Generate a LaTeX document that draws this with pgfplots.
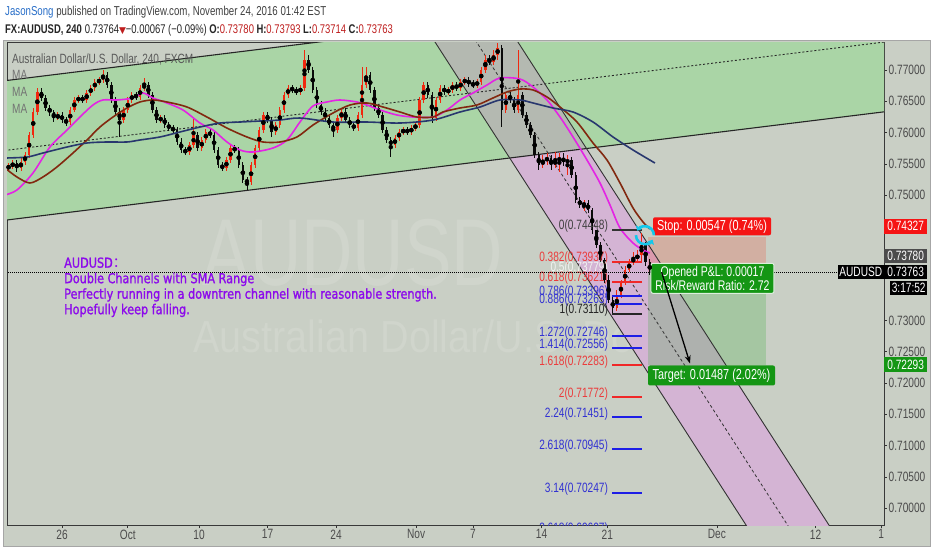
\documentclass[border=0pt]{standalone}
\usepackage{pgfplots}
\pgfplotsset{compat=1.18}
\usepackage{pgfplotstable}
\usetikzlibrary{arrows.meta}
\usepackage{fontspec}
\setmainfont{Liberation Sans}
\newfontfamily\tv[FakeStretch=0.75]{Liberation Sans}
\newfontfamily\tvp[FakeStretch=0.82,FakeBold=1.2]{DejaVu Sans}
\newfontfamily\wmA[FakeStretch=0.75]{Liberation Sans}
\newfontfamily\wmB[FakeStretch=0.88]{Liberation Sans}
\newfontfamily\sym{DejaVu Sans}
\newfontfamily\cjk{Noto Sans CJK SC}

\definecolor{bgcol}{RGB}{201,207,197}
\definecolor{grn}{RGB}{170,213,166}
\definecolor{chgray}{RGB}{180,185,177}
\definecolor{chpink}{RGB}{212,180,212}
\definecolor{cup}{RGB}{240,40,15}
\definecolor{cdn}{RGB}{10,10,10}
\definecolor{magma}{RGB}{228,35,228}
\definecolor{brownma}{RGB}{130,40,15}
\definecolor{navyma}{RGB}{40,55,110}
\definecolor{fibred}{RGB}{240,40,40}
\definecolor{fibblue}{RGB}{30,30,230}
\definecolor{fibtred}{RGB}{235,60,60}
\definecolor{fibtblue}{RGB}{50,50,210}
\definecolor{purp}{RGB}{140,10,235}
\definecolor{boxred}{RGB}{245,20,20}
\definecolor{boxgreen}{RGB}{20,150,20}
\definecolor{hdrblue}{RGB}{40,110,200}
\definecolor{hdrred}{RGB}{190,30,30}
\definecolor{zred}{RGB}{240,80,60}
\definecolor{zgreen}{RGB}{40,170,40}
\definecolor{icon}{RGB}{20,200,235}

% candles sampled every 0.3 trading day; d = trading days from Sep 26
\pgfplotstableread{
d o h l c
-3.9 0.75432 0.75512 0.75384 0.75464
-3.6 0.75464 0.7556 0.75416 0.75512
-3.0 0.75432 0.75592 0.75384 0.75528
-2.7 0.75528 0.75688 0.7548 0.7564
-2.4 0.7564 0.76008 0.75592 0.7596
-2.1 0.7596 0.76392 0.75912 0.76328
-1.8 0.76328 0.76712 0.7628 0.76648
-0.3 0.76232 0.76328 0.762 0.7628
0.6 0.76168 0.76408 0.7612 0.7636
0.9 0.7636 0.76568 0.76328 0.7652
1.2 0.7652 0.766 0.76472 0.76552
1.8 0.7652 0.7668 0.76472 0.76632
2.1 0.76632 0.7676 0.76584 0.76712
2.4 0.76712 0.76856 0.76664 0.76808
2.7 0.76808 0.76888 0.7676 0.7684
3.0 0.7684 0.77 0.76792 0.7692
4.5 0.762 0.76408 0.76152 0.7636
4.8 0.7636 0.76568 0.76312 0.7652
5.1 0.7652 0.76648 0.76472 0.766
5.7 0.76568 0.7676 0.7652 0.76712
6.0 0.76712 0.76872 0.76664 0.7676
7.2 0.762 0.7628 0.76152 0.76232
9.3 0.75688 0.75848 0.7564 0.758
9.6 0.758 0.76232 0.75752 0.7596
10.2 0.75752 0.75928 0.75704 0.7588
10.5 0.7588 0.76056 0.75832 0.76008
12.0 0.75432 0.75608 0.75384 0.7556
12.3 0.7556 0.758 0.75512 0.75752
13.8 0.75208 0.75528 0.7516 0.7548
14.1 0.7548 0.758 0.75432 0.75752
14.4 0.75752 0.76088 0.75704 0.7604
14.7 0.7604 0.76328 0.75992 0.7628
15.6 0.76008 0.76168 0.7596 0.7612
15.9 0.7612 0.76408 0.76072 0.7636
16.2 0.7636 0.76648 0.76312 0.766
16.5 0.766 0.7676 0.76552 0.76712
17.4 0.76648 0.7676 0.766 0.76712
17.7 0.76712 0.7732 0.76664 0.7716
20.1 0.7604 0.7628 0.75992 0.76232
20.4 0.76232 0.76392 0.76184 0.76328
21.6 0.76072 0.76328 0.76024 0.7628
21.9 0.7628 0.77048 0.76232 0.7676
22.2 0.7676 0.77048 0.76712 0.7692
24.3 0.758 0.7596 0.75752 0.75912
24.6 0.75912 0.76056 0.75864 0.76008
24.9 0.76008 0.76088 0.7596 0.7604
25.5 0.76008 0.7612 0.7596 0.76072
25.8 0.76072 0.76168 0.76024 0.7612
26.1 0.7612 0.76568 0.76072 0.7652
26.4 0.7652 0.76808 0.76472 0.7676
27.3 0.76232 0.76568 0.76184 0.7652
27.6 0.7652 0.7676 0.76472 0.76712
28.2 0.76648 0.76728 0.766 0.7668
28.5 0.7668 0.76808 0.76632 0.7676
29.1 0.76712 0.76856 0.76664 0.76808
29.4 0.76808 0.76888 0.7676 0.7684
30.3 0.7676 0.76856 0.76712 0.76808
30.6 0.76808 0.77048 0.7676 0.77
30.9 0.77 0.7724 0.76952 0.7716
31.5 0.77128 0.7732 0.7708 0.7724
31.8 0.7724 0.77432 0.7716 0.77352
32.4 0.7636 0.76648 0.76312 0.766
33.3 0.7636 0.7732 0.76312 0.766
35.1 0.7548 0.7564 0.75432 0.7556
35.4 0.7556 0.75672 0.7548 0.75592
36.0 0.7548 0.75688 0.75432 0.7556
36.3 0.7556 0.75672 0.75368 0.75592
36.9 0.75528 0.7564 0.7532 0.7556
38.1 0.7484 0.7492 0.74744 0.74872
40.5 0.73192 0.7348 0.73144 0.734
40.8 0.734 0.7364 0.73352 0.73608
41.1 0.73608 0.73864 0.7356 0.738
41.4 0.738 0.73976 0.73768 0.73928
41.7 0.73928 0.74088 0.7388 0.73992
42.0 0.73992 0.7412 0.73912 0.7404
42.3 0.7404 0.74392 0.73944 0.742
}\upc

\pgfplotstableread{
d o h l c
-3.3 0.75512 0.7556 0.75368 0.75432
-1.5 0.76648 0.76712 0.76504 0.76552
-1.2 0.76552 0.766 0.76344 0.76392
-0.9 0.76392 0.7644 0.76264 0.76328
-0.6 0.76328 0.7636 0.76168 0.76232
0.0 0.7628 0.76328 0.76152 0.762
0.3 0.762 0.76248 0.76104 0.76168
1.5 0.76552 0.766 0.76472 0.7652
3.3 0.7692 0.76968 0.76712 0.7676
3.6 0.7676 0.76808 0.76472 0.7652
3.9 0.7652 0.76568 0.76264 0.76328
4.2 0.76328 0.76392 0.75928 0.762
5.4 0.766 0.76648 0.7652 0.76568
6.3 0.7676 0.76808 0.76552 0.766
6.6 0.766 0.76648 0.76312 0.7636
6.9 0.7636 0.76408 0.76152 0.762
7.5 0.76232 0.7628 0.76072 0.7612
7.8 0.7612 0.76168 0.76024 0.76072
8.1 0.76072 0.7612 0.75992 0.7604
8.4 0.7604 0.76088 0.758 0.75848
8.7 0.75848 0.75912 0.75672 0.7572
9.0 0.7572 0.75768 0.7564 0.75688
9.9 0.7596 0.76008 0.75704 0.75752
10.8 0.76008 0.76056 0.75912 0.7596
11.1 0.7596 0.76008 0.75672 0.7572
11.4 0.7572 0.75768 0.75432 0.7548
11.7 0.7548 0.75528 0.75384 0.75432
12.6 0.75752 0.758 0.75672 0.7572
12.9 0.7572 0.75768 0.75432 0.7548
13.2 0.7548 0.75528 0.75192 0.7524
13.5 0.7524 0.75288 0.7508 0.75208
15.0 0.7628 0.76328 0.76152 0.762
15.3 0.762 0.76248 0.75928 0.76008
16.8 0.76712 0.7676 0.76632 0.7668
17.1 0.7668 0.76728 0.766 0.76648
18.0 0.7716 0.7724 0.76952 0.77
18.3 0.77 0.77048 0.76632 0.7668
18.6 0.7668 0.76728 0.76392 0.7644
18.9 0.7644 0.76504 0.7628 0.76328
19.2 0.76328 0.76392 0.76184 0.76232
19.5 0.76232 0.7628 0.76072 0.7612
19.8 0.7612 0.76168 0.75928 0.7604
20.7 0.76328 0.76392 0.76152 0.762
21.0 0.762 0.76248 0.76072 0.7612
21.3 0.7612 0.76168 0.76024 0.76072
22.5 0.7692 0.76968 0.76632 0.7668
22.8 0.7668 0.76728 0.76344 0.76392
23.1 0.76392 0.7644 0.76232 0.7628
23.4 0.7628 0.76328 0.75992 0.7604
23.7 0.7604 0.76088 0.75832 0.7588
24.0 0.7588 0.75928 0.75608 0.758
25.2 0.7604 0.76088 0.7596 0.76008
26.7 0.7676 0.76808 0.76552 0.766
27.0 0.766 0.76648 0.76152 0.76232
27.9 0.76712 0.7676 0.766 0.76648
28.8 0.7676 0.76808 0.76664 0.76712
29.7 0.7684 0.76888 0.76728 0.76776
30.0 0.76776 0.7684 0.76712 0.7676
31.2 0.7716 0.7724 0.7708 0.77128
32.1 0.77352 0.774 0.76088 0.7636
32.7 0.766 0.76648 0.76472 0.7652
33.0 0.7652 0.76568 0.76312 0.7636
33.6 0.766 0.76648 0.76232 0.7628
33.9 0.7628 0.76328 0.76072 0.7612
34.2 0.7612 0.76168 0.75912 0.7596
34.5 0.7596 0.76008 0.75592 0.7564
34.8 0.7564 0.75688 0.754 0.7548
35.7 0.75592 0.7564 0.754 0.7548
36.6 0.75592 0.75672 0.75464 0.75528
37.2 0.7556 0.75608 0.75272 0.7532
37.5 0.7532 0.75368 0.74872 0.7492
37.8 0.7492 0.74968 0.74792 0.7484
38.4 0.74872 0.7492 0.74712 0.7476
38.7 0.7476 0.74792 0.74376 0.7444
39.0 0.7444 0.74448 0.74152 0.742
39.3 0.742 0.74248 0.73912 0.7396
39.6 0.7396 0.73992 0.73592 0.7364
39.9 0.7364 0.7372 0.73272 0.7332
40.2 0.7332 0.734 0.7311 0.73192
42.6 0.742 0.74248 0.73864 0.73928
42.9 0.73928 0.73976 0.7372 0.73763
}\dnc

\begin{document}
\begin{tikzpicture}[x=1pt,y=1pt]
\useasboundingbox (0pt,0pt) rectangle (932pt,550pt);
\fill[white] (0pt,0pt) rectangle (932pt,550pt);
\draw[fill=bgcol, draw=gray!70, line width=0.8pt] (3.5pt,4pt) rectangle (930pt,509.5pt);

\node[anchor=base west, inner sep=0, font=\tv\fontsize{12.9}{14}\selectfont, text=black!75] at (5pt,534pt)
 {\textcolor{hdrblue}{JasonSong} published on TradingView.com, November 24, 2016 01:42 EST};
\node[anchor=base west, inner sep=0, font=\tv\fontsize{12.6}{14}\selectfont, text=black!85] at (5pt,516pt)
 {\textbf{FX:AUDUSD, 240}\hspace{3pt}0.73764{\sym\fontsize{9}{10}\selectfont\textcolor{hdrred}{▼}}−0.00067 (−0.09\%)\hspace{2.5pt}\textbf{O:}\textcolor{hdrred}{0.73780}\hspace{2.5pt}\textbf{H:}\textcolor{hdrred}{0.73793}\hspace{2.5pt}\textbf{L:}\textcolor{hdrred}{0.73714}\hspace{2.5pt}\textbf{C:}\textcolor{hdrred}{0.73763}};

\begin{axis}[
 at={(7pt,25pt)}, anchor=south west,
 width=877pt, height=483pt, scale only axis,
 xmin=-4.015, xmax=60.0, ymin=0.697316, ymax=0.774473,
 axis background/.style={fill=bgcol},
 axis line style={draw=gray!45!black, line width=0.7pt},
 scaled x ticks=false, scaled y ticks=false,
 xtick={0,4.8,10,15,20,25.85,30,35,39.8,47.8,55,59.8},
 xticklabels={26,Oct,10,17,24,Nov,7,14,21,Dec,12,1},
 ytick={0.70,0.705,0.71,0.715,0.72,0.725,0.73,0.75,0.755,0.76,0.765,0.77},
 yticklabels={0.70000,0.70500,0.71000,0.71500,0.72000,0.72500,0.73000,0.75000,0.75500,0.76000,0.76500,0.77000},
 xtick pos=bottom, ytick pos=right, yticklabel pos=right,
 tick align=outside, major tick length=3pt,
 tick style={draw=gray!40!black, line width=0.6pt},
 ticklabel style={font=\tv\fontsize{13.5}{14}\selectfont, text=black!70, inner sep=1.5pt},
 after end axis/.code={
  \node[fill=boxred, text=white, font=\tv\fontsize{13.5}{14}\selectfont, anchor=west, minimum width=43pt, minimum height=15pt, inner sep=1pt] at (axis cs:60,0.74504) {0.74327};
  \node[fill=black!70, text=white, font=\tv\fontsize{13.5}{14}\selectfont, anchor=west, minimum width=43pt, minimum height=14pt, inner sep=1pt] at (axis cs:60,0.74024) {0.73780};
  \node[fill=black, text=white, font=\tv\fontsize{13.5}{14}\selectfont, anchor=west, minimum width=43pt, minimum height=14pt, inner sep=1pt] at (axis cs:60,0.73768) {0.73763};
  \node[fill=black, text=white, font=\tv\fontsize{13.5}{14}\selectfont, anchor=east, minimum width=46pt, minimum height=14pt, inner sep=1pt] at (axis cs:60,0.73768) {AUDUSD};
  \node[fill=black, text=white, font=\tv\fontsize{13.5}{14}\selectfont, anchor=west, minimum width=37pt, minimum height=14pt, inner sep=1pt, xshift=6pt] at (axis cs:60,0.73512) {3:17:52};
  \node[fill=boxgreen, text=white, font=\tv\fontsize{13.5}{14}\selectfont, anchor=west, minimum width=43pt, minimum height=15pt, inner sep=1pt] at (axis cs:60,0.72293) {0.72293};
 }
]

% watermark
\node[anchor=base, inner sep=0, font=\wmA\fontsize{95}{95}\selectfont, text=bgcol!88!white] at (axis cs:21.24,0.7356) {AUDUSD};
\node[anchor=base, inner sep=0, font=\wmB\fontsize{45}{45}\selectfont, text=bgcol!88!white] at (axis cs:27.59,0.72488) {Australian Dollar/U.S. Dollar};

% green rising channel
\addplot[fill=grn, draw=none] coordinates {(-4.2,0.74599) (60.2,0.76337) (60.2,0.78566) (-4.2,0.76828)} -- cycle;
% falling channel
\addplot[fill=chgray, draw=none] coordinates {(25.60,0.78) (31.65,0.78) (38.29,0.757451) (32.68,0.755939)} -- cycle;
\addplot[fill=chpink, draw=none] coordinates {(32.68,0.755939) (38.29,0.757451) (58.13,0.69) (52.08,0.69)} -- cycle;

% position zones
\addplot[fill=zred, fill opacity=0.25, draw=none] coordinates {(42.77,0.7378) (51.39,0.7378) (51.39,0.74327) (42.77,0.74327)} -- cycle;
\addplot[fill=zgreen, fill opacity=0.22, draw=none] coordinates {(42.77,0.72293) (51.39,0.72293) (51.39,0.7378) (42.77,0.7378)} -- cycle;

% channel lines
\addplot[black!85, line width=1.1pt] coordinates {(-4.2,0.74599) (60.2,0.76337)};
\addplot[black!85, line width=1.1pt] coordinates {(-4.2,0.76828) (60.2,0.78566)};
\addplot[black!85, line width=0.9pt, dash pattern=on 2pt off 2pt] coordinates {(-4.2,0.757135) (60.2,0.774515)};
\addplot[black!80, line width=0.9pt] coordinates {(25.60,0.78) (52.08,0.69)};
\addplot[black!80, line width=0.9pt] coordinates {(31.65,0.78) (58.13,0.69)};
\addplot[black!80, line width=0.8pt, dash pattern=on 3pt off 2.5pt] coordinates {(28.63,0.78) (55.11,0.69)};

% candles: wicks and bodies
\addplot[only marks, mark=none, error bars/.cd, y dir=both, y explicit, error mark=none,
 error bar style={draw=cup, line width=0.8pt}]
 table[x=d, y expr={(\thisrow{h}+\thisrow{l})/2}, y error expr={(\thisrow{h}-\thisrow{l})/2}] {\upc};
\addplot[only marks, mark=none, error bars/.cd, y dir=both, y explicit, error mark=none,
 error bar style={draw=cup, line width=2.4pt}]
 table[x=d, y expr={(\thisrow{o}+\thisrow{c})/2}, y error expr={abs(\thisrow{c}-\thisrow{o})/2}] {\upc};
\addplot[only marks, mark=none, error bars/.cd, y dir=both, y explicit, error mark=none,
 error bar style={draw=cdn, line width=0.8pt}]
 table[x=d, y expr={(\thisrow{h}+\thisrow{l})/2}, y error expr={(\thisrow{h}-\thisrow{l})/2}] {\dnc};
\addplot[only marks, mark=none, error bars/.cd, y dir=both, y explicit, error mark=none,
 error bar style={draw=cdn, line width=2.4pt}]
 table[x=d, y expr={(\thisrow{o}+\thisrow{c})/2}, y error expr={abs(\thisrow{c}-\thisrow{o})/2}] {\dnc};

% moving averages
\addplot[magma, line width=1.6pt, smooth, tension=0.5] coordinates {(-4.16,0.75003)(-3.29,0.75083)(-2.12,0.75355)(-0.88,0.7577)(0.37,0.76042)(1.31,0.76249)(2.26,0.76441)(2.99,0.76521)(4.01,0.76521)(5.18,0.76553)(5.91,0.76633)(6.64,0.76553)(7.66,0.76473)(8.83,0.76361)(10.07,0.76153)(11.02,0.76042)(12.04,0.7585)(12.99,0.75722)(13.94,0.7569)(15.4,0.75754)(16.42,0.75882)(17.37,0.76169)(18.32,0.76425)(19.34,0.76489)(20.29,0.76521)(21.53,0.76489)(22.26,0.76441)(23.21,0.76361)(24.45,0.76281)(25.62,0.76249)(27.08,0.76249)(28.1,0.76361)(29.05,0.76521)(30.0,0.76633)(31.02,0.7676)(31.97,0.76872)(33.43,0.76856)(34.38,0.76728)(35.4,0.76521)(36.35,0.76249)(37.3,0.7593)(38.32,0.75562)(39.27,0.75195)(40.0,0.74843)(40.73,0.74476)(41.68,0.74236)(42.41,0.74125)(42.9,0.74077)};
\addplot[brownma, line width=1.6pt, smooth, tension=0.5] coordinates {(-4.16,0.75435)(-3.29,0.75291)(-2.34,0.75195)(-1.39,0.75291)(-0.37,0.75451)(0.8,0.75674)(1.82,0.75882)(2.77,0.76089)(3.72,0.76249)(4.74,0.76393)(5.69,0.76489)(6.64,0.76521)(7.66,0.76489)(9.12,0.76409)(10.58,0.76249)(12.04,0.76073)(13.5,0.7593)(14.67,0.7585)(15.91,0.7585)(17.15,0.7593)(18.32,0.76121)(19.78,0.76313)(21.02,0.76441)(22.26,0.76473)(23.43,0.76409)(24.67,0.76329)(25.91,0.76249)(27.08,0.76249)(27.81,0.76329)(29.05,0.76393)(30.29,0.76441)(31.46,0.76553)(32.48,0.76649)(33.43,0.76696)(34.38,0.76681)(35.4,0.76569)(36.35,0.76409)(37.59,0.76169)(38.76,0.75834)(39.78,0.75562)(40.73,0.75195)(41.68,0.74796)(42.41,0.74572)(42.9,0.7446)};
\addplot[navyma, line width=1.6pt, smooth, tension=0.5] coordinates {(-4.16,0.75594)(-2.55,0.7561)(-1.39,0.75674)(0.37,0.7577)(1.82,0.75834)(3.28,0.7585)(4.74,0.7585)(5.69,0.75882)(7.15,0.7593)(8.61,0.7601)(10.07,0.76089)(11.53,0.76153)(12.99,0.76169)(14.45,0.76185)(15.91,0.76201)(17.37,0.76233)(19.78,0.76169)(22.26,0.76169)(24.67,0.76153)(27.08,0.76201)(29.05,0.76329)(30.51,0.76409)(31.97,0.76521)(33.43,0.76521)(34.38,0.76473)(35.84,0.76393)(37.3,0.76329)(38.76,0.76169)(40.22,0.7593)(41.68,0.75722)(43.28,0.75514)};

% fibonacci levels
\addplot[black!80, line width=2pt] coordinates {(40.15,0.74448) (42.3,0.74448)};
\addplot[fibred, line width=2pt] coordinates {(40.15,0.73937) (42.3,0.73937)};
\addplot[fibred, line width=2pt] coordinates {(40.15,0.73621) (42.3,0.73621)};
\addplot[fibblue, line width=2pt] coordinates {(40.15,0.73396) (42.3,0.73396)};
\addplot[fibblue, line width=2pt] coordinates {(40.15,0.73263) (42.3,0.73263)};
\addplot[black!85, line width=2pt] coordinates {(40.15,0.7311) (42.3,0.7311)};
\addplot[fibblue, line width=2pt] coordinates {(40.15,0.72746) (42.3,0.72746)};
\addplot[fibblue, line width=2pt] coordinates {(40.15,0.72556) (42.3,0.72556)};
\addplot[fibred, line width=2pt] coordinates {(40.15,0.72283) (42.3,0.72283)};
\addplot[fibred, line width=2pt] coordinates {(40.15,0.71772) (42.3,0.71772)};
\addplot[fibblue, line width=2pt] coordinates {(40.15,0.71451) (42.3,0.71451)};
\addplot[fibblue, line width=2pt] coordinates {(40.15,0.70945) (42.3,0.70945)};
\addplot[fibblue, line width=2pt] coordinates {(40.15,0.70247) (42.3,0.70247)};
\addplot[fibblue, line width=2pt] coordinates {(40.15,0.69607) (42.3,0.69607)};

\begin{scope}[every node/.style={anchor=base east, inner sep=0.5pt, font=\tv\fontsize{13.5}{14}\selectfont}]
\node[text=black!75] at (axis cs:39.9,0.74448) {0(0.74448)};
\node[text=fibtred] at (axis cs:39.9,0.73937) {0.382(0.73937)};
\node[text=white!75!bgcol] at (axis cs:39.9,0.73779) {0.5(0.73779)};
\node[text=fibtred] at (axis cs:39.9,0.73621) {0.618(0.73621)};
\node[text=fibtblue] at (axis cs:39.9,0.73396) {0.786(0.73396)};
\node[text=fibtblue] at (axis cs:39.9,0.73263) {0.886(0.73263)};
\node[text=black!85] at (axis cs:39.9,0.7311) {1(0.73110)};
\node[text=fibtblue] at (axis cs:39.9,0.72746) {1.272(0.72746)};
\node[text=fibtblue] at (axis cs:39.9,0.72556) {1.414(0.72556)};
\node[text=fibtred] at (axis cs:39.9,0.72283) {1.618(0.72283)};
\node[text=fibtred] at (axis cs:39.9,0.71772) {2(0.71772)};
\node[text=fibtblue] at (axis cs:39.9,0.71451) {2.24(0.71451)};
\node[text=fibtblue] at (axis cs:39.9,0.70945) {2.618(0.70945)};
\node[text=fibtblue] at (axis cs:39.9,0.70247) {3.14(0.70247)};
\node[text=fibtblue] at (axis cs:39.9,0.69607) {3.618(0.69607)};
\end{scope}

% current price line
\addplot[black, line width=0.7pt, dash pattern=on 1pt off 1pt] coordinates {(-4.1,0.73763) (60,0.73763)};

% pane legend
\node[anchor=base west, inner sep=0, font=\tv\fontsize{13.4}{14}\selectfont, text=black!65] at (axis cs:-3.65,0.77096) {Australian Dollar/U.S. Dollar, 240, FXCM};
\node[anchor=base west, inner sep=0, font=\tv\fontsize{13.4}{14}\selectfont, text=black!55] at (axis cs:-3.65,0.76856) {MA};
\node[anchor=base west, inner sep=0, font=\tv\fontsize{13.4}{14}\selectfont, text=black!55] at (axis cs:-3.65,0.76584) {MA};
\node[anchor=base west, inner sep=0, font=\tv\fontsize{13.4}{14}\selectfont, text=black!55] at (axis cs:-3.65,0.76312) {MA};

% note
\node[anchor=north west, inner sep=0, align=left, text=purp, font=\tvp\fontsize{13.7}{15.5}\selectfont] at (axis cs:0.146,0.74008)
 {AUDUSD{\cjk ：}\\Double Channels with SMA Range\\Perfectly running in a downtren channel with reasonable strength.\\Hopefully keep falling.};

% trade labels
\node[fill=boxred, text=white, rounded corners=2pt, minimum width=118pt, minimum height=18pt, inner sep=1pt, font=\tv\fontsize{14.5}{15}\selectfont] at (axis cs:47.45,0.74504) {Stop: 0.00547 (0.74\%)};
\node[fill=boxgreen, draw=white!85!boxgreen, line width=1pt, text=white, rounded corners=2pt, minimum width=123pt, minimum height=30pt, inner sep=1pt, align=center, font=\tv\fontsize{14}{14.5}\selectfont] at (axis cs:47.48,0.73672) {Opened P\&L: 0.00017\\Risk/Reward Ratio: 2.72};
\node[fill=boxgreen, text=white, rounded corners=2pt, minimum width=127pt, minimum height=20pt, inner sep=1pt, font=\tv\fontsize{14.5}{15}\selectfont] at (axis cs:47.41,0.7212) {Target: 0.01487 (2.02\%)};

\draw[black, line width=1.3pt, -{Stealth[length=8pt,width=6pt]}] (axis cs:43.77,0.7377) -- (axis cs:45.84,0.72312);

\draw[icon, line width=2.6pt, -{Triangle[length=4pt,width=7pt]}] ([shift={(9pt,0pt)}]axis cs:42.55,0.74361) arc[start angle=0, end angle=150, radius=9pt];
\draw[icon, line width=2.6pt, -{Triangle[length=4pt,width=7pt]}] ([shift={(-9pt,0pt)}]axis cs:42.55,0.74361) arc[start angle=180, end angle=330, radius=9pt];

\end{axis}
\end{tikzpicture}
\end{document}
